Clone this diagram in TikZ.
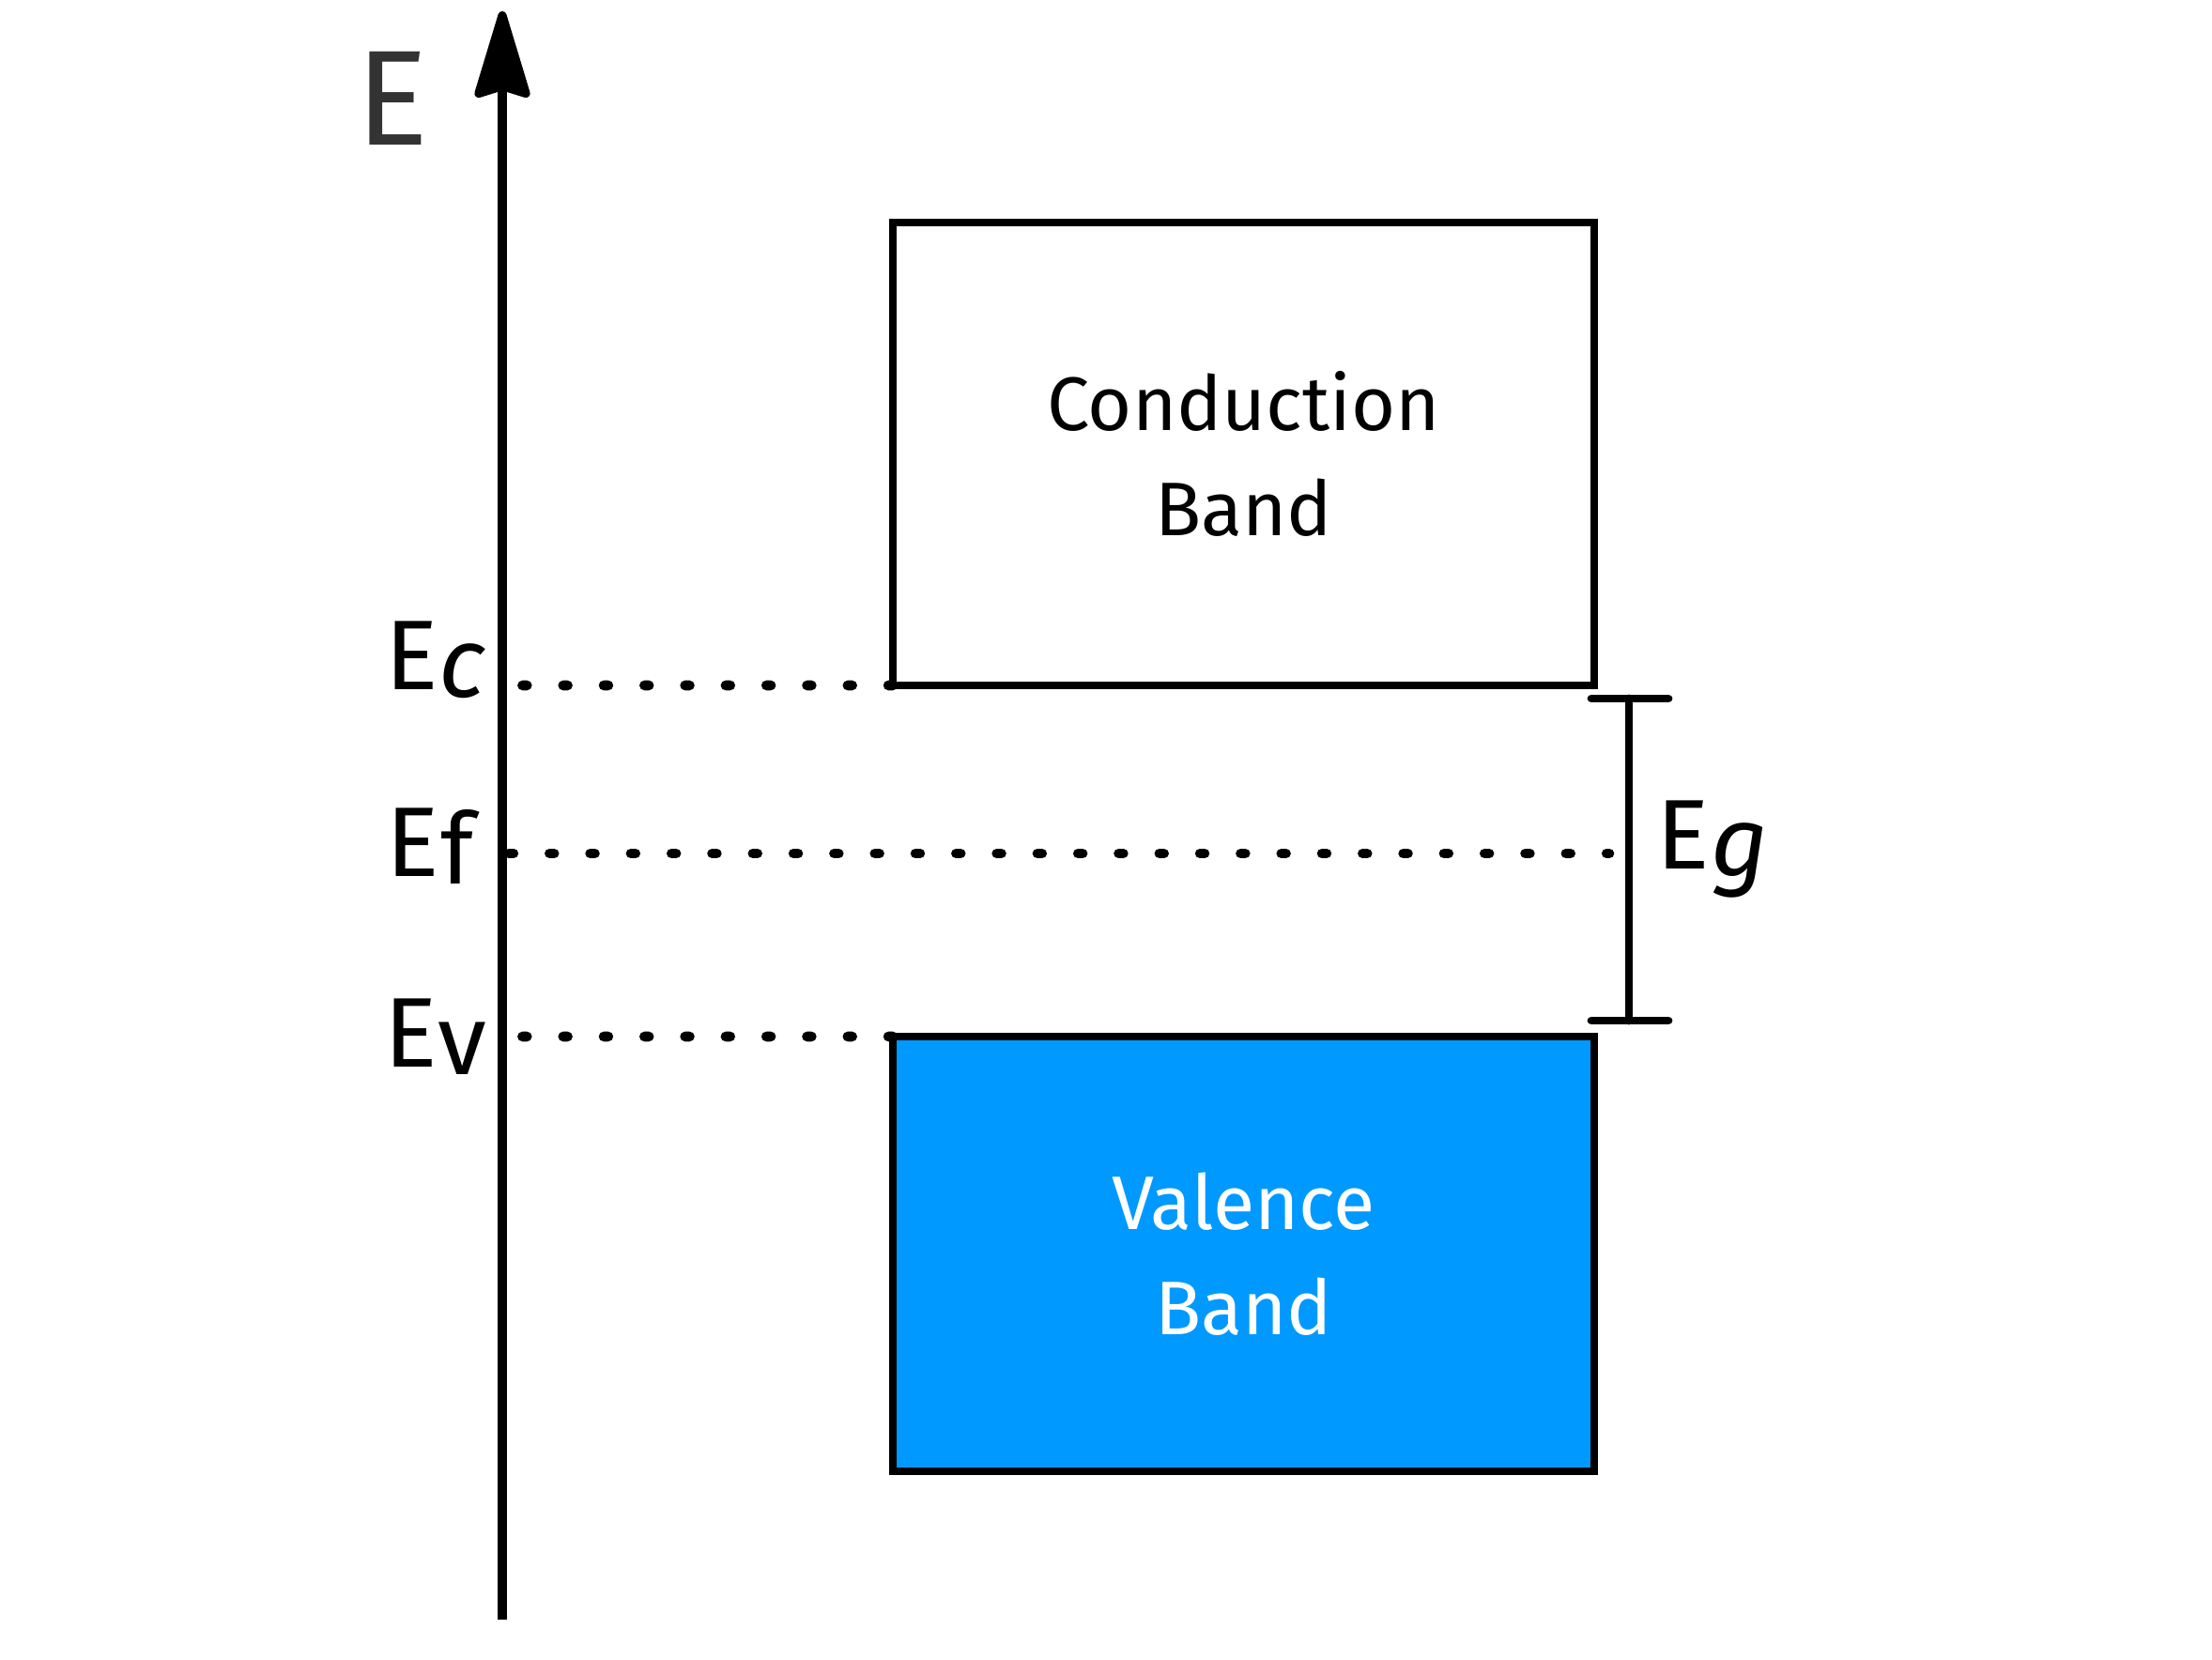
\documentclass[tikz,border=0pt]{standalone}
\usepackage{fontspec}
\setmainfont{Fira Sans}
\usepackage{xcolor}
\usepackage{tikz}
\usetikzlibrary{arrows.meta}
\usetikzlibrary{positioning}

\definecolor{valblue}{RGB}{0,153,255}
\definecolor{axisgray}{RGB}{51,51,51}

\newcommand{\lvl}[1]{E\kern0.01em\raisebox{-0.08cm}{#1}}

\tikzset{
  band/.style={draw, line width=2.5pt, outer sep=0pt, minimum width=7.47cm, minimum height=4.93cm,
    align=center, inner sep=0pt, font=\fontsize{23pt}{32pt}\selectfont},
  level/.style={line width=3pt, line cap=round, dash pattern=on 1.4pt off 10.92pt},
  lvllabel/.style={font=\fontsize{30pt}{30pt}\selectfont, inner sep=0pt},
  gap/.style={line width=2.5pt, line cap=round}
}

\begin{document}
\begin{tikzpicture}
  \useasboundingbox (0,0) rectangle (23.56,17.67);

  % Define nodes
  \node[band] (cb) at (13.245,12.835) {Conduction\\Band};
  \node[band, fill=valblue, text=white, minimum height=4.63cm] (vb) at (13.245,4.315) {Valence\\Band};

  \coordinate (bot) at (5.35,0.42);
  \coordinate (top) at (5.35,17.55);
  \coordinate (ec) at (5.54,10.37);
  \coordinate (ef) at (5.42,8.58);
  \coordinate (efend) at (17.14,8.58);
  \coordinate (ev) at (5.54,6.63);
  \coordinate (gtop) at (17.35,10.23);
  \coordinate (gbot) at (17.35,6.80);

  \node[font=\fontsize{41pt}{41pt}\selectfont, text=axisgray, inner sep=0pt] (elabel) at (4.18,16.62) {E};
  \node[lvllabel] (eclabel) at (4.64,10.64) {\lvl{\textit{c}}};
  \node[lvllabel] (eflabel) at (4.58,8.66) {\lvl{f}};
  \node[lvllabel] (evlabel) at (4.64,6.63) {\lvl{v}};
  \node[lvllabel] (eglabel) at (18.24,8.62) {\lvl{\textit{g}}};

  % Axis
  \draw[line width=2.6pt, -{Stealth[length=1.05cm, width=0.62cm, inset=0.09cm, round]}] (bot) -- (top);

  % Levels
  \draw[level] (cb.south west) -- (ec);
  \draw[level] (ef) -- (efend);
  \draw[level] (vb.north west) -- (ev);

  % Gap
  \draw[gap] (gtop) -- (gbot);
  \draw[gap] ([xshift=-0.40cm]gtop) -- ([xshift=0.42cm]gtop);
  \draw[gap] ([xshift=-0.40cm]gbot) -- ([xshift=0.42cm]gbot);

\end{tikzpicture}
\end{document}
